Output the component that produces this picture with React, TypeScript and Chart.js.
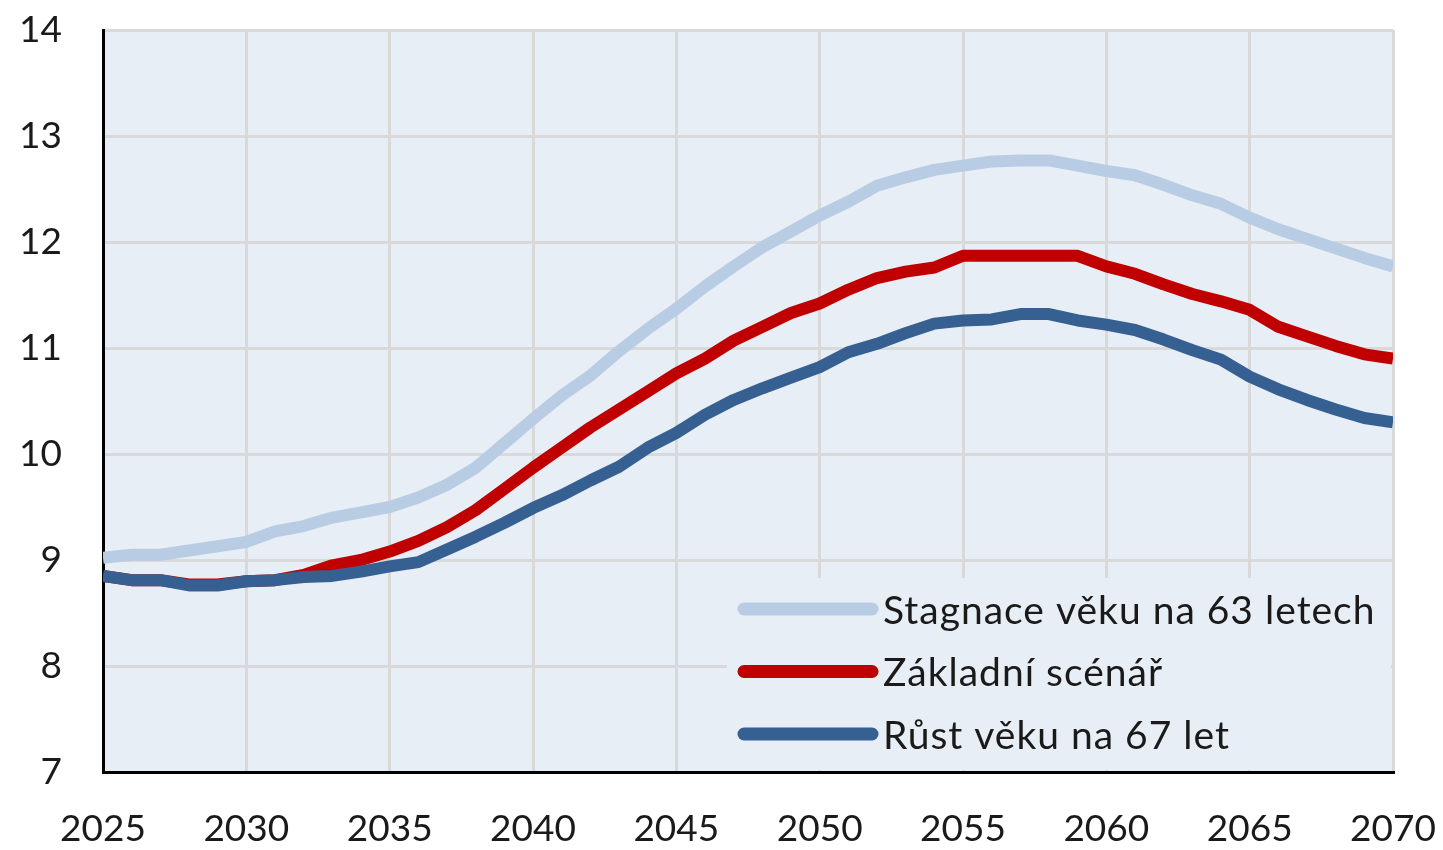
import React, { useEffect, useRef } from "react";
import { Chart, registerables } from "chart.js";

Chart.register(...registerables);

const years: number[] = Array.from({ length: 46 }, (_, i) => 2025 + i);

const seriesLabels: string[] = [
  "Stagnace věku na 63 letech",
  "Základní scénář",
  "Růst věku na 67 let",
];

const stagnace: number[] = [
  9.02, 9.05, 9.05, 9.09, 9.13, 9.17, 9.27, 9.32, 9.4, 9.45,
  9.5, 9.59, 9.71, 9.87, 10.1, 10.33, 10.55, 10.74, 10.97, 11.18,
  11.37, 11.58, 11.77, 11.95, 12.1, 12.25, 12.38, 12.53, 12.61, 12.68,
  12.72, 12.76, 12.77, 12.77, 12.72, 12.67, 12.63, 12.54, 12.44, 12.36,
  12.23, 12.12, 12.03, 11.94, 11.85, 11.77,
];

const zakladni: number[] = [
  8.85, 8.81, 8.81, 8.77, 8.77, 8.8, 8.81, 8.86, 8.95, 9.0,
  9.08, 9.18, 9.31, 9.47, 9.67, 9.87, 10.06, 10.25, 10.42, 10.59,
  10.76, 10.9, 11.07, 11.2, 11.33, 11.42, 11.55, 11.66, 11.72, 11.76,
  11.87, 11.87, 11.87, 11.87, 11.87, 11.77, 11.7, 11.6, 11.51, 11.44,
  11.36, 11.2, 11.11, 11.02, 10.94, 10.9,
];

const rust: number[] = [
  8.85, 8.81, 8.81, 8.76, 8.76, 8.8, 8.81, 8.84, 8.85, 8.89,
  8.94, 8.98, 9.1, 9.22, 9.35, 9.49, 9.61, 9.75, 9.88, 10.06,
  10.2, 10.37, 10.51, 10.62, 10.72, 10.82, 10.96, 11.04, 11.14, 11.23,
  11.26, 11.27, 11.32, 11.32, 11.26, 11.22, 11.17, 11.08, 10.98, 10.89,
  10.73, 10.61, 10.51, 10.42, 10.34, 10.3,
];

const seriesColors: string[] = ["#b8cce4", "#c00000", "#366092"];

const PLOT_BG = "#e8eef6";
const GRID = "#d9d9d9";
const TEXT = "#1a1a1a";
const FONT = "Lato, 'Liberation Sans', sans-serif";

const bgPlugin = {
  id: "plotBg",
  beforeDraw(chart: any) {
    const { ctx, chartArea } = chart;
    ctx.save();
    ctx.fillStyle = PLOT_BG;
    ctx.fillRect(chartArea.left, chartArea.top, chartArea.right - chartArea.left, chartArea.bottom - chartArea.top);
    ctx.restore();
  },
};

const legendPlugin = {
  id: "insideLegend",
  beforeDatasetsDraw(chart: any) {
    const { ctx, chartArea } = chart;
    ctx.save();
    ctx.fillStyle = PLOT_BG;
    const x0 = chartArea.right - 666;
    const y0 = chartArea.bottom - 194;
    ctx.fillRect(x0, y0, chartArea.right - 2 - x0, chartArea.bottom - 2 - y0);
    ctx.restore();
  },
  afterDatasetsDraw(chart: any) {
    const { ctx, chartArea } = chart;
    const datasets = chart.data.datasets;
    ctx.save();
    const lineX0 = chartArea.right - 655;
    const lineX1 = chartArea.right - 515;
    const textX = chartArea.right - 510;
    const firstY = chartArea.bottom - 163;
    const step = 62.5;
    datasets.forEach((ds: any, i: number) => {
      const y = firstY + i * step;
      ctx.strokeStyle = ds.borderColor;
      ctx.lineWidth = 13;
      ctx.lineCap = "round";
      ctx.beginPath();
      ctx.moveTo(lineX0 + 6, y);
      ctx.lineTo(lineX1 - 6, y);
      ctx.stroke();
      ctx.fillStyle = TEXT;
      ctx.font = "39px " + FONT;
      try {
        (ctx as any).letterSpacing = "1px";
      } catch (e) {}
      ctx.textAlign = "left";
      ctx.textBaseline = "middle";
      ctx.fillText(ds.label, textX, y + 2);
    });
    ctx.restore();
  },
};

const zeroPad = (s: any) => {
  s.paddingTop = 0;
  s.paddingBottom = 0;
  s.paddingLeft = 0;
  s.paddingRight = 0;
};

export default function App() {
  const ref = useRef<HTMLCanvasElement | null>(null);

  useEffect(() => {
    document.body.style.margin = "0";
    const canvas = ref.current;
    if (!canvas) return;
    const values = [stagnace, zakladni, rust];
    const chart = new Chart(canvas, {
      type: "line",
      data: {
        datasets: values.map((vals, i) => ({
          label: seriesLabels[i],
          data: vals.map((v, j) => ({ x: years[j], y: v })),
          borderColor: seriesColors[i],
          backgroundColor: seriesColors[i],
          borderWidth: 12,
          pointRadius: 0,
          tension: 0,
          borderJoinStyle: "round" as const,
          borderCapStyle: "butt" as const,
          order: 2 - i,
        })),
      },
      options: {
        responsive: false,
        animation: false,
        events: [],
        layout: { padding: { top: 30, right: 50, left: 0, bottom: 0 } },
        plugins: {
          legend: { display: false },
          tooltip: { enabled: false },
        },
        scales: {
          x: {
            type: "linear",
            min: 2025,
            max: 2070,
            afterFit: (s: any) => {
              s.height = 78;
              zeroPad(s);
            },
            ticks: {
              stepSize: 5,
              padding: 35,
              color: TEXT,
              font: { family: FONT, size: 37 },
              callback: (v: any) => String(v),
              maxRotation: 0,
            },
            grid: { color: GRID, lineWidth: 3, drawTicks: false },
            border: { color: "#000", width: 3 },
          },
          y: {
            min: 7,
            max: 14,
            afterFit: (s: any) => {
              s.width = 103;
              zeroPad(s);
            },
            ticks: {
              stepSize: 1,
              padding: 41,
              color: TEXT,
              font: { family: FONT, size: 37 },
            },
            grid: { color: GRID, lineWidth: 3, drawTicks: false },
            border: { color: "#000", width: 3 },
          },
        },
      },
      plugins: [bgPlugin, legendPlugin],
    });
    return () => chart.destroy();
  }, []);

  return (
    <div style={{ width: 1443, height: 850, background: "#fff" }}>
      <canvas ref={ref} width={1443} height={850} />
    </div>
  );
}
